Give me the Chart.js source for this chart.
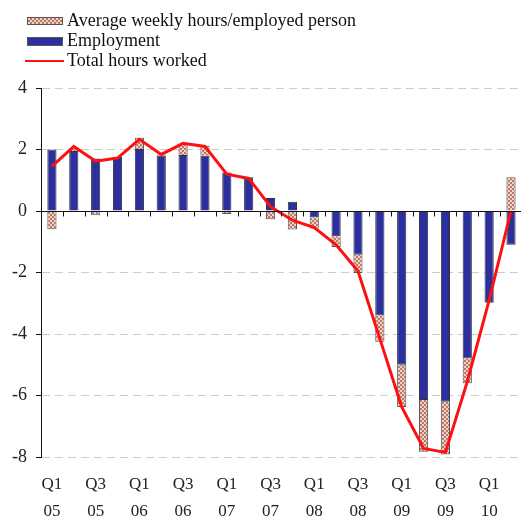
<!DOCTYPE html>
<html>
<head>
<meta charset="utf-8">
<script src="https://cdn.jsdelivr.net/npm/chart.js@4.4.1/dist/chart.umd.min.js"></script>
<style>
  html, body { margin: 0; padding: 0; background: #fff; overflow: hidden; }
  #wrap { width: 525px; height: 521px; }
</style>
</head>
<body>
<div id="wrap"><canvas id="chart" width="525" height="521"></canvas></div>
<script>
// Quarters, Q1 2005 .. Q2 2010
const quarters = ['Q1 05', 'Q2 05', 'Q3 05', 'Q4 05', 'Q1 06', 'Q2 06', 'Q3 06', 'Q4 06',
                  'Q1 07', 'Q2 07', 'Q3 07', 'Q4 07', 'Q1 08', 'Q2 08', 'Q3 08', 'Q4 08',
                  'Q1 09', 'Q2 09', 'Q3 09', 'Q4 09', 'Q1 10', 'Q2 10'];

// contributions, percentage points
const employment = [2.0, 1.95, 1.71, 1.76, 2.02, 1.8, 1.82, 1.8, 1.25, 1.1, 0.42,
                    0.3, -0.2, -0.82, -1.42, -3.4, -5.0, -6.15, -6.2, -4.8, -2.98, -1.1];
const avgHours = [-0.59, 0.08, -0.14, -0.03, 0.36, 0.04, 0.36, 0.32, -0.1, -0.03, -0.27,
                  -0.6, -0.37, -0.35, -0.6, -0.85, -1.37, -1.68, -1.72, -0.8, 0, 1.1];
const totalHours = [1.45, 2.1, 1.62, 1.72, 2.33, 1.84, 2.2, 2.1, 1.2, 1.06, 0.14,
                    -0.3, -0.54, -1.1, -1.95, -4.15, -6.37, -7.72, -7.85, -5.55, -2.9, 0.0];

const yTicks = [-8, -6, -4, -2, 0, 2, 4];

const serif = "'Liberation Serif', 'Times New Roman', serif";
const blue = '#2b309e';
const red = '#ff1010';

// dotted salmon fill used for the hours bars
function makePattern() {
    const c = document.createElement('canvas');
    c.width = 4; c.height = 4;
    const g = c.getContext('2d');
    g.fillStyle = '#f0d2c8';
    g.fillRect(0, 0, 4, 4);
    g.fillStyle = '#b97868';
    g.fillRect(0, 0, 2, 2);
    g.fillRect(2, 2, 2, 2);
    return g.createPattern(c, 'repeat');
}
const hoursFill = makePattern();

// zero line with little ticks between the quarters
const zeroAxis = {
    id: 'zeroAxis',
    afterDatasetsDraw(chart) {
        const ctx = chart.ctx, x = chart.scales.x, y = chart.scales.y;
        const y0 = Math.round(y.getPixelForValue(0)) + 0.5;
        const w = x.width / quarters.length;
        ctx.save();
        ctx.strokeStyle = '#111';
        ctx.lineWidth = 1;
        ctx.beginPath();
        ctx.moveTo(x.left, y0);
        ctx.lineTo(x.right, y0);
        for (let i = 1; i < quarters.length; i++) {
            const bx = Math.round(x.left + i * w) + 0.5;
            ctx.moveTo(bx, y0);
            ctx.lineTo(bx, y0 + 5);
        }
        ctx.stroke();
        ctx.restore();
    }
};

// legend stacked in the top left corner
const topLegend = {
    id: 'topLegend',
    afterDraw(chart) {
        const ctx = chart.ctx;
        ctx.save();
        ctx.font = '18px ' + serif;
        ctx.textBaseline = 'middle';

        ctx.fillStyle = hoursFill;
        ctx.fillRect(27, 17, 35, 7);
        ctx.strokeStyle = '#555';
        ctx.lineWidth = 1;
        ctx.strokeRect(27.5, 17.5, 35, 7);

        ctx.fillStyle = blue;
        ctx.fillRect(27, 37, 35, 8);
        ctx.strokeRect(27.5, 37.5, 35, 8);

        ctx.strokeStyle = red;
        ctx.lineWidth = 2;
        ctx.beginPath();
        ctx.moveTo(25, 61);
        ctx.lineTo(64, 61);
        ctx.stroke();

        ctx.fillStyle = '#111';
        ctx.fillText('Average weekly hours/employed person', 67, 21);
        ctx.fillText('Employment', 67, 41);
        ctx.fillText('Total hours worked', 67, 61);
        ctx.restore();
    }
};

new Chart(document.getElementById('chart'), {
    data: {
        labels: quarters,
        datasets: [{
            type: 'line',
            label: 'Total hours worked',
            data: totalHours,
            borderColor: red,
            borderWidth: 3,
            pointRadius: 0,
            tension: 0,
            order: 0
        }, {
            type: 'bar',
            label: 'Employment',
            data: employment,
            backgroundColor: blue,
            borderColor: '#333',
            borderWidth: 1,
            stack: 's',
            order: 1
        }, {
            type: 'bar',
            label: 'Average weekly hours/employed person',
            data: avgHours,
            backgroundColor: hoursFill,
            borderColor: '#555',
            borderWidth: 1,
            stack: 's',
            order: 1
        }]
    },
    options: {
        responsive: false,
        animation: false,
        layout: { padding: { top: 88, right: 0, left: 0, bottom: 0 } },
        datasets: { bar: { barPercentage: 0.42, categoryPercentage: 1.0 } },
        plugins: { legend: { display: false }, tooltip: { enabled: false } },
        scales: {
            x: {
                stacked: true,
                grid: { display: false, drawTicks: false },
                border: { display: false },
                afterFit: s => { s.height = 64; },
                ticks: {
                    autoSkip: false,
                    maxRotation: 0,
                    padding: 14,
                    color: '#222',
                    font: { family: serif, size: 17, lineHeight: 1.6 },
                    callback: (v, i) => i % 2 === 0 ? quarters[i].split(' ') : ''
                }
            },
            y: {
                stacked: true,
                min: -8,
                max: 4,
                afterFit: s => { s.width = 41; },
                afterBuildTicks: s => { s.ticks = yTicks.map(v => ({ value: v })); },
                grid: { color: '#cccccc', tickColor: '#111', tickLength: 5, lineWidth: 1 },
                border: { display: true, color: '#111', width: 1, dash: [8, 5] },
                ticks: {
                    padding: 9,
                    color: '#222',
                    font: { family: serif, size: 18 }
                }
            }
        }
    },
    plugins: [zeroAxis, topLegend]
});
</script>
</body>
</html>
